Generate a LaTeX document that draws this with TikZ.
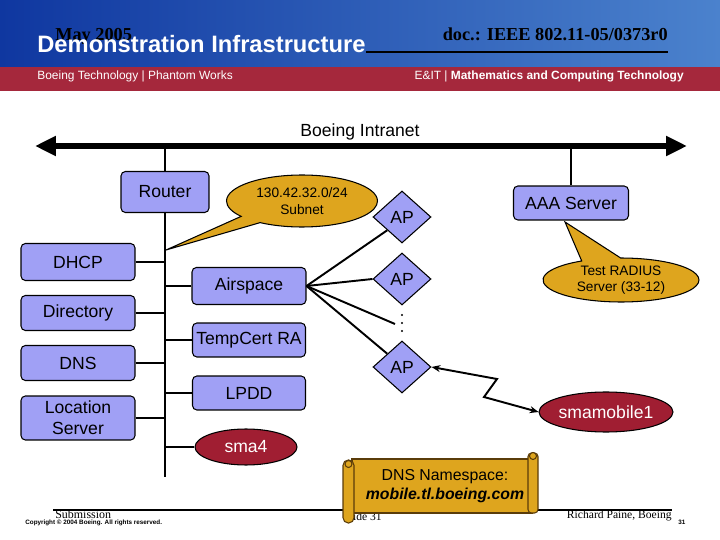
\documentclass[tikz,border=0pt]{standalone}
\usepackage{fontspec}
\setmainfont{Liberation Serif}
\setsansfont{Liberation Sans}
\usetikzlibrary{arrows.meta, shapes.geometric, shapes.callouts, positioning}
\definecolor{boxblue}{RGB}{160,160,245}
\definecolor{calloutgold}{RGB}{222,165,30}
\definecolor{hostred}{RGB}{160,30,50}
\definecolor{hdrdark}{RGB}{15,55,160}
\definecolor{hdrlight}{RGB}{75,130,205}
\definecolor{bandred}{RGB}{165,40,60}
\definecolor{scrolledge}{RGB}{90,60,10}

\begin{document}
\begin{tikzpicture}[x=0.02cm, y=-0.02cm,
  every node/.style={font=\sffamily\fontsize{10}{12}\selectfont},
  box/.style={draw, rounded corners=2.5pt, fill=boxblue, line width=0.6pt, align=center, inner sep=1pt},
  ap/.style={draw, diamond, fill=boxblue, line width=0.6pt, minimum width=1.16cm, minimum height=1.04cm, inner sep=0pt},
  host/.style={draw, ellipse, fill=hostred, text=white, line width=0.6pt, inner sep=0pt},
  bubble/.style={draw, ellipse callout, fill=calloutgold, line width=0.6pt, inner sep=0pt, align=center, font=\sffamily\fontsize{7.8}{9.4}\selectfont},
  link/.style={line width=1.1pt}]
  \useasboundingbox (0,0) rectangle (720,540);

  % header
  \shade[left color=hdrdark, right color=hdrlight] (0,0) rectangle (720,67);
  \fill[bandred] (0,67) rectangle (720,91);
  \node[anchor=base west, inner sep=0pt, font=\rmfamily\bfseries\fontsize{10.4}{12}\selectfont] (date) at (55,41) {May 2005};
  \node[anchor=base east, inner sep=0pt, font=\rmfamily\bfseries\fontsize{10.4}{12}\selectfont] (docnr) at (668,41) {doc.: IEEE 802.11-05/0373r0};
  \coordinate (docline) at (668,52);
  \node[anchor=base west, inner sep=0pt, text=white, font=\sffamily\bfseries\fontsize{13.5}{16}\selectfont] (title) at (37,53) {Demonstration Infrastructure};
  \draw[line width=0.6pt] (title.east |- docline) -- (docline);
  \node[anchor=base west, inner sep=0pt, text=white, font=\sffamily\fontsize{6.8}{8}\selectfont] (unit) at (37,80) {Boeing Technology | Phantom Works};
  \node[anchor=base east, inner sep=0pt, text=white, font=\sffamily\fontsize{6.8}{8}\selectfont] (dept) at (684,80) {E\&IT | \textbf{Mathematics and Computing Technology}};

  % intranet
  \coordinate (netL) at (35,146);
  \coordinate (netR) at (687,146);
  \draw[line width=0.12cm, {Triangle[length=0.42cm,width=0.38cm]}-{Triangle[length=0.42cm,width=0.38cm]}] (netL) -- (netR);
  \node (intranet) at (360,132) {Boeing Intranet};

  % servers
  \node[box, minimum width=1.76cm, minimum height=0.82cm] (router) at (165,192) {Router};
  \node[box, minimum width=2.28cm, minimum height=0.74cm] (dhcp) at (78,262) {DHCP};
  \node[box, minimum width=2.28cm, minimum height=0.7cm] (directory) at (78,313) {Directory};
  \node[box, minimum width=2.28cm, minimum height=0.7cm] (dns) at (78,363) {DNS};
  \node[box, minimum width=2.28cm, minimum height=0.88cm] (locsrv) at (78,418) {Location\\Server};
  \node[box, minimum width=2.28cm, minimum height=0.74cm] (airspace) at (249,286) {Airspace};
  \node[box, minimum width=2.26cm, minimum height=0.68cm] (tempcert) at (249,340) {TempCert RA};
  \node[box, minimum width=2.26cm, minimum height=0.68cm] (lpdd) at (249,393) {LPDD};
  \node[host, minimum width=2.04cm, minimum height=0.72cm] (sma4) at (246,447) {sma4};
  \node[box, minimum width=2.3cm, minimum height=0.68cm] (aaa) at (571,203) {AAA Server};

  % access points
  \node[ap] (ap1) at (402,217) {AP};
  \node[ap] (ap2) at (402,279) {AP};
  \node[ap] (ap3) at (402,367) {AP};
  \coordinate (apdots) at (395,324);
  \foreach \y in {315,323,331}
    \fill (402,\y) circle (0.6pt);
  \node[host, minimum width=2.22cm, minimum height=0.8cm] (smamobile) at (606,412) {smamobile1};

  % callouts
  \coordinate (subnettip) at (166,250);
  \node[bubble, minimum width=3.02cm, minimum height=1.04cm, callout pointer arc=20, callout absolute pointer={(subnettip)}] (subnet) at (302,201) {130.42.32.0/24\\Subnet};
  \coordinate (radiustip) at (565,222);
  \node[bubble, minimum width=3.12cm, minimum height=0.88cm, callout pointer arc=30, callout absolute pointer={(radiustip)}] (radius) at (621,280) {Test RADIUS\\Server (33-12)};

  % wiring
  \coordinate (bbbot) at (165,477);
  \draw[link] (router.north) -- (router.north |- netL);
  \draw[link] (aaa.north) -- (aaa.north |- netR);
  \draw[link] (router.south) -- (bbbot);
  \foreach \n in {dhcp,directory,dns,locsrv}
    \draw[link] (\n.east) -- (\n.east -| bbbot);
  \foreach \n in {airspace,tempcert,lpdd,sma4}
    \draw[link] (\n.west) -- (\n.west -| bbbot);
  \draw[link] (airspace.east) -- (ap1.south west);
  \draw[link] (airspace.east) -- (ap2.west);
  \draw[link] (airspace.east) -- (apdots);
  \draw[link] (airspace.east) -- (ap3.north west);
  \coordinate (zig1) at (497,379);
  \coordinate (zig2) at (484,397);
  \draw[link, {Stealth[length=5pt,width=4pt]}-{Stealth[length=5pt,width=4pt]}] (ap3.east) -- (zig1) -- (zig2) -- (smamobile.west);

  % footer
  \coordinate (footL) at (53,510);
  \coordinate (footR) at (672,510);
  \draw[line width=0.6pt] (footL) -- (footR);
  \node[anchor=base west, inner sep=0pt, font=\rmfamily\fontsize{6.8}{8}\selectfont] (submission) at (55,518) {Submission};
  \node[anchor=base west, inner sep=0pt, font=\sffamily\bfseries\fontsize{3.6}{4}\selectfont] (copyright) at (25,524) {Copyright © 2004 Boeing. All rights reserved.};
  \node[anchor=base west, inner sep=0pt, font=\rmfamily\fontsize{6.6}{8}\selectfont] (slide) at (343,520) {Slide 31};
  \node[anchor=base east, inner sep=0pt, font=\rmfamily\fontsize{6.6}{8}\selectfont] (author) at (672,518) {Richard Paine, Boeing};
  \node[anchor=base west, inner sep=0pt, font=\sffamily\bfseries\fontsize{3.6}{4}\selectfont] (pagenr) at (678,524) {31};

  % scroll
  \begin{scope}[fill=calloutgold, draw=scrolledge, line width=0.6pt]
    \filldraw (352,459) rectangle (532,513);
    \filldraw[rounded corners=2pt] (528,453) rectangle (538,513);
    \filldraw (533,456) circle (3.5);
    \filldraw[rounded corners=3pt] (343,460) rectangle (354,523);
    \filldraw (348.5,464) circle (3.5);
  \end{scope}
  \node[align=center, font=\sffamily\fontsize{9}{10.8}\selectfont] (namespace) at (445,486) {DNS Namespace:\\\textbf{\textit{mobile.tl.boeing.com}}};
\end{tikzpicture}
\end{document}
